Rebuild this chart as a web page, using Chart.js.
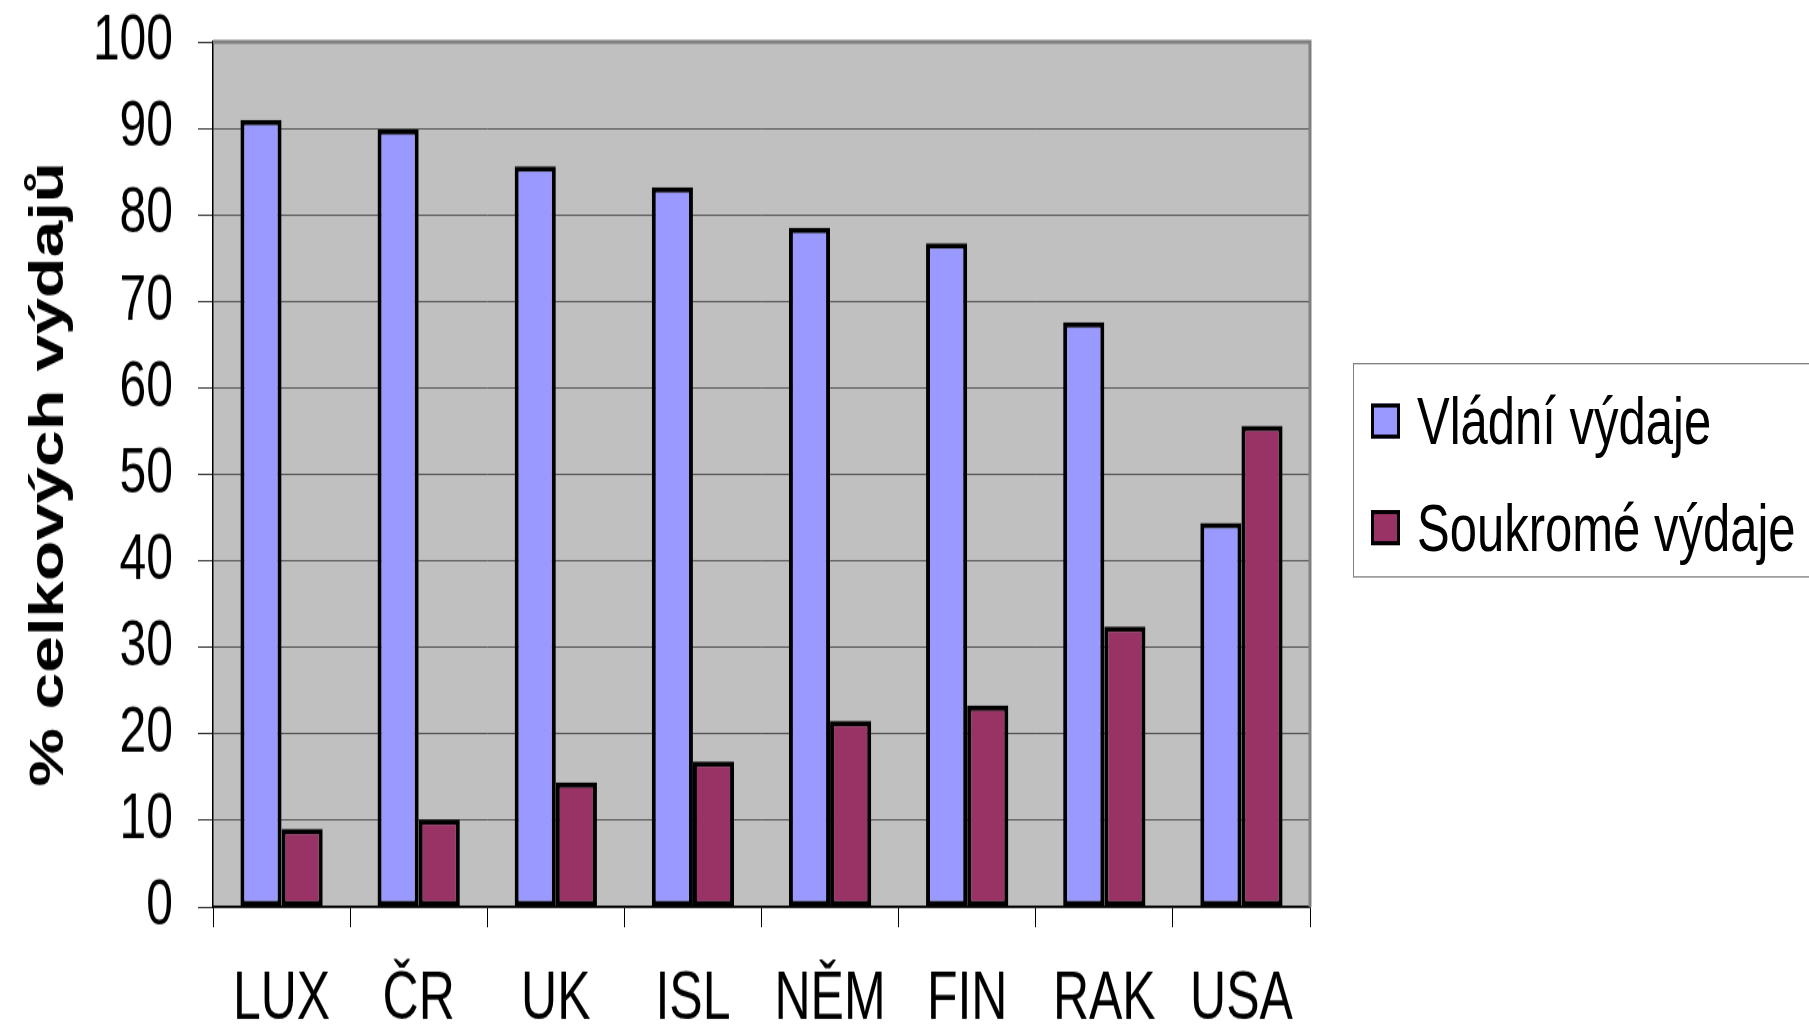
<!DOCTYPE html>
<html lang="cs">
<head>
<meta charset="utf-8">
<title>Vládní a soukromé výdaje</title>
<script src="https://cdn.jsdelivr.net/npm/chart.js@4.4.1/dist/chart.umd.min.js"></script>
<style>
  html { overflow: hidden; }
  body { margin: 0; padding: 0; background: #fff; width: 1809px; height: 1031px; }
  /* celý graf je svisle protažený, jako v původní prezentaci */
  #obal { position: relative; width: 1809px; height: 764px; transform: scaleY(1.3495); transform-origin: 0 0; }
  #graf { position: absolute; left: 0; top: 0; }
  #legenda {
    position: absolute; left: 1353px; top: 269px; width: 520px; height: 159px;
    border: 1px solid #808080; box-sizing: border-box; margin: 0; padding: 0; list-style: none;
    font-family: 'Liberation Sans', Arial, sans-serif; font-size: 49px; color: #000;
  }
  #legenda li { position: absolute; left: 17px; height: 50px; display: flex; align-items: center; white-space: nowrap; }
  #legenda .legenda-cor { width: 29px; height: 26px; box-sizing: border-box; border: 3px solid #000; margin-right: 17px; }
</style>
</head>
<body>
<div id="obal">
  <canvas id="graf" width="1809" height="764"></canvas>
  <ul id="legenda"></ul>
</div>
<script>
const zeme = ['LUX', 'ČR', 'UK', 'ISL', 'NĚM', 'FIN', 'RAK', 'USA'];
const vladniVydaje = [91.0, 89.9, 85.6, 83.2, 78.5, 76.7, 67.6, 44.4];
const soukromeVydaje = [9.0, 10.1, 14.4, 16.8, 21.5, 23.3, 32.4, 55.6];
const hodnotyOsyY = [0, 10, 20, 30, 40, 50, 60, 70, 80, 90, 100];

const PISMO = "'Liberation Sans', Arial, sans-serif";
const MODRA = '#9999ff';
const VINOVA = '#993366';

// šedé pozadí plochy grafu a rámeček nahoře a vpravo
const plochaGrafu = {
  id: 'plochaGrafu',
  beforeDraw(chart) {
    const { ctx, chartArea: a } = chart;
    ctx.save();
    ctx.fillStyle = '#c0c0c0';
    ctx.fillRect(a.left, a.top, a.right - a.left, a.bottom - a.top);
    ctx.restore();
  },
  beforeDatasetsDraw(chart) {
    const { ctx, chartArea: a } = chart;
    ctx.save();
    ctx.strokeStyle = '#808080';
    ctx.lineWidth = 3;
    ctx.beginPath();
    ctx.moveTo(a.left, a.top);
    ctx.lineTo(a.right, a.top);
    ctx.lineTo(a.right, a.bottom);
    ctx.stroke();
    ctx.restore();
  },
};

const sloupec = {
  borderColor: '#000',
  borderWidth: 4,
  borderSkipped: false,
  categoryPercentage: 0.6,
  barPercentage: 1,
};

const graf = new Chart(document.getElementById('graf'), {
  type: 'bar',
  data: {
    labels: zeme,
    datasets: [
      { label: 'Vládní výdaje', data: vladniVydaje, backgroundColor: MODRA, ...sloupec },
      { label: 'Soukromé výdaje', data: soukromeVydaje, backgroundColor: VINOVA, ...sloupec },
    ],
  },
  options: {
    responsive: false,
    animation: false,
    layout: { padding: { top: 31, right: 499, left: 0, bottom: 0 } },
    plugins: {
      legend: { display: false }, // legenda je v HTML vpravo
      tooltip: { enabled: false },
    },
    scales: {
      x: {
        afterFit: (s) => { s.height = 92; },
        grid: { offset: true, drawOnChartArea: false, drawTicks: true, tickLength: 15, color: '#000', lineWidth: 1 },
        border: { color: '#000', width: 1.5 },
        ticks: { color: '#000', padding: 24, maxRotation: 0, font: { family: PISMO, size: 50 } },
      },
      y: {
        min: 0,
        max: 100,
        afterFit: (s) => { s.width = 213; s.paddingTop = 0; s.paddingBottom = 0; },
        afterBuildTicks: (s) => { s.ticks = hodnotyOsyY.map((v) => ({ value: v })); },
        grid: { color: '#555', lineWidth: 1, drawTicks: true, tickLength: 15, tickColor: '#333' },
        border: { color: '#000', width: 1.5 },
        ticks: { color: '#000', padding: 25, font: { family: PISMO, size: 48 } },
        title: {
          display: true,
          text: '% celkových výdajů',
          color: '#000',
          padding: { top: 20, bottom: 0 },
          font: { family: PISMO, size: 49, weight: 'bold' },
        },
      },
    },
  },
  plugins: [plochaGrafu],
});

// legenda s barevnými čtverečky
const legendaEl = document.getElementById('legenda');
const radkyLegendy = [17, 96];
for (const [i, ds] of graf.data.datasets.entries()) {
  const li = document.createElement('li');
  li.style.top = `${radkyLegendy[i]}px`;
  const cor = document.createElement('span');
  cor.className = 'legenda-cor';
  cor.style.background = ds.backgroundColor;
  const nome = document.createElement('span');
  nome.textContent = ds.label;
  li.append(cor, nome);
  legendaEl.appendChild(li);
}
</script>
</body>
</html>
